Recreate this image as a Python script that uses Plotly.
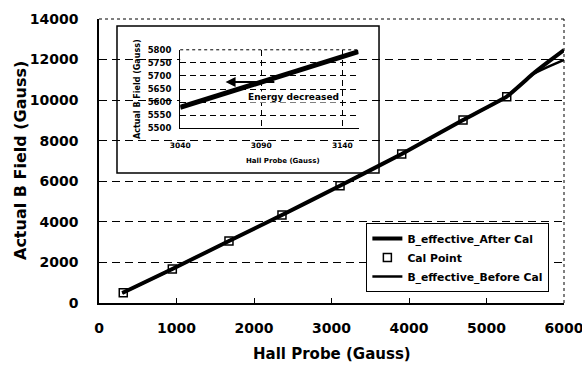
import plotly.graph_objects as go

# ---- data ----
cal_hall = [313, 946, 1677, 2361, 3110, 3906, 4697, 5261]
cal_b = [508, 1676, 3057, 4338, 5783, 7346, 9022, 10171]

line_hall = [300, 946, 1677, 2361, 3110, 3906, 4697, 5261, 5600, 5800, 6000]
after_cal = [490, 1676, 3057, 4338, 5783, 7346, 9022, 10171, 11300, 11900, 12470]
before_cal = [490, 1676, 3057, 4338, 5783, 7346, 9022, 10171, 11280, 11650, 11990]

inset_hall = [3040, 3150]
inset_b = [5580, 5793]

FONT = "DejaVu Sans"

fig = go.Figure()
fig.add_trace(go.Scatter(x=line_hall, y=after_cal, mode="lines", name="B_effective_After Cal",
                         line=dict(color="black", width=4, shape="spline", smoothing=0.3)))
fig.add_trace(go.Scatter(x=cal_hall, y=cal_b, mode="markers", name="Cal Point",
                         marker=dict(symbol="square-open", size=8, color="black", line=dict(width=1.5))))
fig.add_trace(go.Scatter(x=line_hall, y=before_cal, mode="lines", name="B_effective_Before Cal",
                         line=dict(color="black", width=2.5, shape="spline", smoothing=0.3)))
fig.add_trace(go.Scatter(x=inset_hall, y=inset_b, mode="lines", showlegend=False,
                         line=dict(color="black", width=5), xaxis="x2", yaxis="y2"))

tickfont = dict(family=FONT, size=14, color="black", weight="bold")

fig.update_layout(
    width=582, height=367,
    margin=dict(l=99, r=18, t=19, b=64, autoexpand=False),
    paper_bgcolor="white", plot_bgcolor="white",
    font=dict(family=FONT, color="black"),
    xaxis=dict(range=[0, 6000], dtick=1000, tick0=0, ticks="inside", ticklen=5, tickcolor="black",
               showline=True, linecolor="black", linewidth=1.5, showgrid=False, zeroline=False,
               tickfont=tickfont, ticklabelstandoff=11, automargin=False, ticklabeloverflow="allow",
               tickformat="d"),
    yaxis=dict(range=[0, 14000], dtick=2000, tick0=0, ticks="inside", ticklen=4, tickcolor="black",
               showline=True, linecolor="black", linewidth=1.5, showgrid=True, gridcolor="black",
               gridwidth=1, griddash="8px,5px", zeroline=False, tickformat="d",
               tickfont=tickfont, ticklabelstandoff=16, automargin=False, ticklabeloverflow="allow"),
    xaxis2=dict(domain=[0.1746, 0.5582], anchor="y2", range=[3040, 3150], dtick=50, tick0=3040,
                showline=True, linecolor="black", linewidth=1.2, showgrid=True, gridcolor="black",
                gridwidth=0.8, griddash="6px,4px", zeroline=False, ticks="", automargin=False,
                ticklabelstandoff=10, tickformat="d",
                tickfont=dict(family=FONT, size=7.5, color="black", weight="bold")),
    yaxis2=dict(domain=[0.6154, 0.8916], anchor="x2", range=[5500, 5800], dtick=50, tick0=5500,
                showline=True, linecolor="black", linewidth=1.2, showgrid=True, gridcolor="black",
                gridwidth=0.8, griddash="6px,4px", zeroline=False, ticks="", automargin=False,
                ticklabelstandoff=6, tickformat="d",
                tickfont=dict(family=FONT, size=8.5, color="black", weight="bold")),
    legend=dict(x=0.575, y=0.2817, xanchor="left", yanchor="top", bgcolor="white",
                bordercolor="black", borderwidth=1, itemwidth=30,
                font=dict(family=FONT, size=10.8, color="black", weight="bold")),
    showlegend=True,
)

shapes = [
    # inset frame
    dict(type="rect", xref="paper", yref="paper", x0=0.0387, x1=0.6022, y0=0.458, y1=0.9755,
         fillcolor="white", line=dict(color="black", width=1.5), layer="between"),
    # dotted top/right of main plot
    dict(type="line", xref="paper", yref="paper", x0=0, x1=1, y0=1, y1=1,
         line=dict(color="black", width=1, dash="dot")),
    dict(type="line", xref="paper", yref="paper", x0=1, x1=1, y0=0, y1=1,
         line=dict(color="black", width=1, dash="dot")),
    # dotted top of inset
    dict(type="line", xref="x2 domain", yref="y2 domain", x0=0, x1=1, y0=1, y1=1,
         line=dict(color="black", width=1, dash="dot")),
]
fig.update_layout(shapes=shapes)

annotations = [
    dict(text="Hall Probe (Gauss)", xref="paper", yref="paper", x=0.5, y=(303 - 354) / 284,
         xanchor="center", yanchor="middle",
         showarrow=False, font=dict(family=FONT, size=15, color="black", weight="bold")),
    dict(text="Actual B Field (Gauss)", xref="paper", yref="paper", x=(20 - 99) / 465, y=0.5,
         xanchor="center", yanchor="middle",
         textangle=-90, showarrow=False, font=dict(family=FONT, size=16, color="black", weight="bold")),
    dict(text="Hall Probe (Gauss)", xref="paper", yref="paper", x=(283 - 99) / 465, y=(303 - 161) / 284,
         xanchor="center", yanchor="middle",
         showarrow=False, font=dict(family=FONT, size=7, color="black", weight="bold")),
    dict(text="Actual B Field (Gauss)", xref="paper", yref="paper", x=(137 - 99) / 465, y=(303 - 89) / 284,
         xanchor="center", yanchor="middle",
         textangle=-90, showarrow=False, font=dict(family=FONT, size=8, color="black", weight="bold")),
    dict(text="Energy decreased", xref="x2", yref="y2", x=3110, y=5620, showarrow=False,
         bgcolor="white", borderpad=0, xanchor="center", yanchor="middle",
         font=dict(family=FONT, size=9, color="black", weight="bold")),
    dict(text="", xref="x2", yref="y2", x=3068, y=5677, ax=3099, ay=5677, axref="x2", ayref="y2",
         showarrow=True, arrowhead=2, arrowsize=1, arrowwidth=2, arrowcolor="black"),
]
fig.update_layout(annotations=annotations)

fig.write_html("out.html", config={"displayModeBar": False},
               post_script="document.body.style.margin='0px';")
